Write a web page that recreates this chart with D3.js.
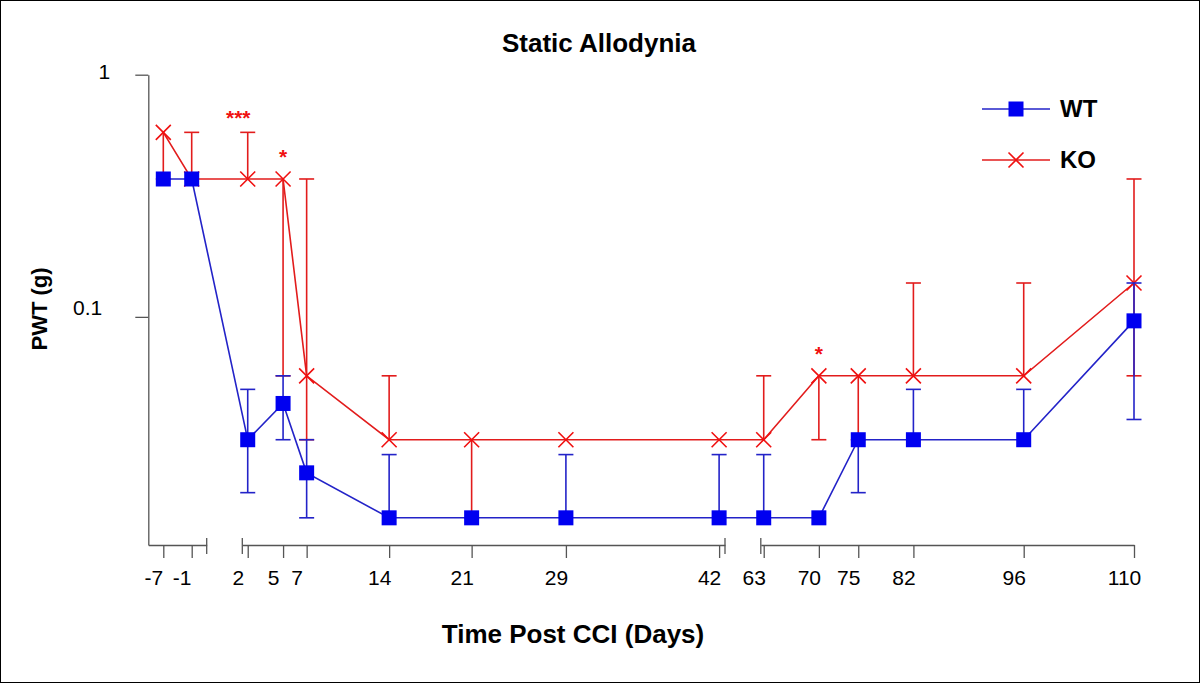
<!DOCTYPE html>
<html>
<head>
<meta charset="utf-8">
<script src="https://cdn.jsdelivr.net/npm/d3@7/dist/d3.min.js"></script>
<style>
  html, body { margin: 0; padding: 0; background: #fff; }
  svg { display: block; font-family: "Liberation Sans", Arial, sans-serif; }
</style>
</head>
<body>
<svg id="chart" width="1200" height="683"></svg>
<script>
// ---------------- data ----------------
const days = [-7, -1, 2, 5, 7, 14, 21, 29, 42, 63, 70, 75, 82, 96, 110];
const tickLabels = ["-7", "-1", "2", "5", "7", "14", "21", "29", "42", "63", "70", "75", "82", "96", "110"];

const wtMean = [0.371, 0.371, 0.0311, 0.0439, 0.0227, 0.0148, 0.0148, 0.0148, 0.0148, 0.0148, 0.0148, 0.0311, 0.0311, 0.0311, 0.0963];
const wtLow  = [0.371, 0.371, 0.0188, 0.0311, 0.0148, 0.0148, 0.0148, 0.0148, 0.0148, 0.0148, 0.0148, 0.0188, 0.0311, 0.0311, 0.0377];
const wtHigh = [0.371, 0.371, 0.0502, 0.0571, 0.0311, 0.0270, 0.0148, 0.0270, 0.0270, 0.0270, 0.0148, 0.0311, 0.0502, 0.0502, 0.138];

const koMean = [0.578, 0.371, 0.371, 0.371, 0.0571, 0.0311, 0.0311, 0.0311, 0.0311, 0.0311, 0.0571, 0.0571, 0.0571, 0.0571, 0.138];
const koLow  = [0.371, 0.371, 0.371, 0.0571, 0.0311, 0.0311, 0.0148, 0.0311, 0.0311, 0.0311, 0.0311, 0.0311, 0.0571, 0.0571, 0.0571];
const koHigh = [0.578, 0.578, 0.578, 0.371, 0.371, 0.0571, 0.0311, 0.0311, 0.0311, 0.0571, 0.0571, 0.0571, 0.138, 0.138, 0.371];

const sigDays = [2, 5, 70];
const sigMarks = ["***", "*", "*"];

const yTicks = [1, 0.1];
const yTickLabels = ["1", "0.1"];

// axis break segments (day domains), non-overlapping
const segDomains = [[-10.17, 1.5], [1.54, 42.5], [62.63, 110]];

// ---------------- layout ----------------
const svg = d3.select("#chart");
const W = 1200, H = 683;
const yTop = 74.7, yBottom = 545;
const segRanges = [[148.3, 206.7], [242.3, 725], [760.8, 1134]];
const seg0End = 2.17; // visual end of first segment

const BLUE = "#0000f0", BLUE_LINE = "#2323c8";
const RED = "#f01010", RED_LINE = "#e21c1c";

svg.append("rect").attr("x", 0.5).attr("y", 0.5).attr("width", W - 1).attr("height", H - 1)
  .attr("fill", "#fff").attr("stroke", "#000").attr("stroke-width", 1);

const segScales = segDomains.map((d, i) =>
  d3.scaleLinear().domain([d[0], i === 0 ? seg0End : d[1]]).range(segRanges[i]));
function xs(day) {
  for (let i = 0; i < segScales.length; i++) {
    const d = segDomains[i];
    if (day >= d[0] && day <= d[1]) return segScales[i](day);
  }
  return segScales[2](day);
}
const y = d3.scaleLog().domain([0.01143, 1]).range([yBottom, yTop]);

// ---------------- axes ----------------
const axisColor = "#555";
const yLabelShiftY = [-3, -10];
const yLabelShiftX = [-38, -46];
const yAxis = d3.axisLeft(y).tickValues(yTicks).tickSize(13).tickSizeOuter(0)
  .tickFormat((d, i) => yTickLabels[i]);
const gy = svg.append("g").attr("transform", `translate(${segRanges[0][0]},0)`).call(yAxis);
gy.select(".domain").attr("stroke", axisColor).attr("stroke-width", 1.3);
gy.selectAll(".tick line").attr("stroke", axisColor).attr("stroke-width", 1.3);
gy.selectAll(".tick text").attr("font-size", 21).attr("fill", "#000")
  .attr("x", (d, i) => yLabelShiftX[i]).attr("y", (d, i) => yLabelShiftY[i]).attr("dy", "0.34em");

// x axis segments
segScales.forEach((sc, i) => {
  const d = segDomains[i];
  const tv = days.filter(v => v >= d[0] && v <= d[1]);
  const ax = d3.axisBottom(sc).tickValues(tv).tickSize(13).tickSizeOuter(0)
    .tickFormat(v => tickLabels[days.indexOf(v)]);
  const g = svg.append("g").attr("transform", `translate(0,${yBottom})`).call(ax);
  g.select(".domain").attr("stroke", axisColor).attr("stroke-width", 1.3);
  g.selectAll(".tick line").attr("stroke", axisColor).attr("stroke-width", 1.3);
  g.selectAll(".tick text").attr("font-size", 21).attr("fill", "#000").attr("y", 25).attr("x", -10);
});
// break bars
const breaks = [segRanges[0][1], segRanges[1][0], segRanges[1][1], segRanges[2][0]];
svg.append("g").selectAll("line").data(breaks).join("line")
  .attr("x1", d => d).attr("x2", d => d)
  .attr("y1", yBottom - 7).attr("y2", yBottom + 9)
  .attr("stroke", axisColor).attr("stroke-width", 1.3);

// ---------------- series ----------------
function drawSeries(mean, low, high, lineColor, markerColor, marker) {
  const g = svg.append("g");
  const pts = days.map((d, i) => ({ x: xs(d), m: mean[i], lo: low[i], hi: high[i] }));
  pts.forEach(p => {
    if (p.lo < p.m || p.hi > p.m) {
      g.append("line").attr("x1", p.x).attr("x2", p.x)
        .attr("y1", y(p.hi)).attr("y2", y(p.lo))
        .attr("stroke", lineColor).attr("stroke-width", 1.6);
    }
    if (p.hi > p.m) {
      g.append("line").attr("x1", p.x - 7.5).attr("x2", p.x + 7.5)
        .attr("y1", y(p.hi)).attr("y2", y(p.hi))
        .attr("stroke", lineColor).attr("stroke-width", 1.6);
    }
    if (p.lo < p.m) {
      g.append("line").attr("x1", p.x - 7.5).attr("x2", p.x + 7.5)
        .attr("y1", y(p.lo)).attr("y2", y(p.lo))
        .attr("stroke", lineColor).attr("stroke-width", 1.6);
    }
  });
  const line = d3.line().x(p => p.x).y(p => y(p.m));
  g.append("path").datum(pts).attr("d", line).attr("fill", "none")
    .attr("stroke", lineColor).attr("stroke-width", 1.6);
  pts.forEach(p => drawMarker(g, p.x, y(p.m), marker, markerColor));
  return g;
}
function drawMarker(g, cx, cy, marker, color) {
  if (marker === "square") {
    g.append("rect").attr("x", cx - 7.5).attr("y", cy - 7.5).attr("width", 15).attr("height", 15)
      .attr("fill", color);
  } else {
    const s = 7.5;
    g.append("path").attr("d", `M${cx - s},${cy - s}L${cx + s},${cy + s}M${cx - s},${cy + s}L${cx + s},${cy - s}`)
      .attr("stroke", color).attr("stroke-width", 1.6).attr("fill", "none");
  }
}

drawSeries(koMean, koLow, koHigh, RED_LINE, RED, "x");
drawSeries(wtMean, wtLow, wtHigh, BLUE_LINE, BLUE, "square");

// significance marks
svg.append("g").selectAll("text").data(sigDays).join("text")
  .attr("x", (d, i) => xs(d) - (i === 0 ? 9.5 : 0))
  .attr("y", d => {
    const idx = days.indexOf(d);
    return Math.min(y(koHigh[idx]), y(koMean[idx]) - 7.5) - 7.5;
  })
  .attr("text-anchor", "middle").attr("font-size", 21).attr("font-weight", "bold")
  .attr("fill", RED).text((d, i) => sigMarks[i]);

// ---------------- titles ----------------
svg.append("text").attr("x", 599).attr("y", 52).attr("text-anchor", "middle")
  .attr("font-size", 26).attr("font-weight", "bold").text("Static Allodynia");
svg.append("text").attr("x", 573).attr("y", 643).attr("text-anchor", "middle")
  .attr("font-size", 26).attr("font-weight", "bold").text("Time Post CCI (Days)");
svg.append("text").attr("transform", "translate(47,309) rotate(-90)").attr("text-anchor", "middle")
  .attr("font-size", 22).attr("font-weight", "bold").text("PWT (g)");

// ---------------- legend ----------------
const legendItems = [
  { name: "WT", color: BLUE_LINE, mcolor: BLUE, marker: "square", yy: 109 },
  { name: "KO", color: RED_LINE, mcolor: RED, marker: "x", yy: 160 }
];
const lg = svg.append("g");
legendItems.forEach(it => {
  lg.append("line").attr("x1", 982).attr("x2", 1050).attr("y1", it.yy).attr("y2", it.yy)
    .attr("stroke", it.color).attr("stroke-width", 1.3);
  drawMarker(lg, 1016, it.yy, it.marker, it.mcolor);
  lg.append("text").attr("x", 1060).attr("y", it.yy + 8).attr("font-size", 24)
    .attr("font-weight", "bold").text(it.name);
});
</script>
</body>
</html>
